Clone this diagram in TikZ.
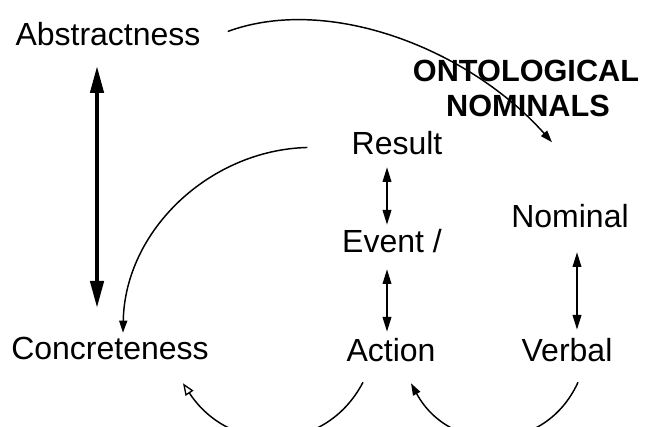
\documentclass[tikz,border=0pt]{standalone}
\usepackage{fontspec}
\setmainfont{Liberation Sans}
\usetikzlibrary{arrows.meta,calc}
\tikzset{
  lbl/.style={anchor=base, inner sep=0pt, text height=17.3pt, text depth=0pt,
              font=\fontsize{24}{28}\selectfont},
  head/.style={anchor=base, inner sep=0pt, text height=16.6pt, text depth=0pt,
               font=\fontsize{23}{27}\selectfont\bfseries},
  bigarrow/.style={line width=2.6pt, {Triangle[length=20pt,width=10pt]}-{Triangle[length=20pt,width=10pt]}},
  duo/.style={line width=1.1pt, {Triangle[length=11pt,width=6.5pt]}-{Triangle[length=11pt,width=6.5pt]}},
  link/.style={line width=1.1pt, -{Triangle[length=9pt,width=6pt]}},
  openlink/.style={line width=1.1pt, -{Triangle[open,length=9pt,width=7pt,line width=1pt]}}
}
\begin{document}
\begin{tikzpicture}[x=0.75pt,y=-0.75pt]
\useasboundingbox (0,0) rectangle (647,427);

% labels
\node[lbl]  (abs)   at (108,46)  {Abstractness};
\node[lbl]  (conc)  at (110,360) {Concreteness};
\node[lbl]  (res)   at (397,155) {Result};
\node[lbl]  (evt)   at (392,253) {Event /};
\node[lbl]  (act)   at (391,362) {Action};
\node[lbl]  (nom)   at (570,228) {Nominal};
\node[lbl]  (verb)  at (567,362) {Verbal};
\node[head] (onto)  at (526,82)  {ONTOLOGICAL};
\node[head] (nomls) at (528,117) {NOMINALS};

% abstract / concrete scale
\draw[bigarrow] ($(abs.south)+(-11,20)$) -- ($(conc.north)+(-13,-29)$);

% vertical pairs
\draw[duo] ($(res.south)+(-10,12)$) -- ($(evt.north)+(-5,-5)$);
\draw[duo] ($(evt.south)+(-5,16)$) -- ($(act.north)+(-4,-7)$);
\draw[duo] ($(nom.south)+(7,24)$) -- ($(verb.north)+(10,-9)$);

% curved links
\draw[link] ($(abs.east)+(27,-3)$) .. controls (330,-6) and (470,50) .. ($(nomls.south)+(24,25)$);
\draw[link] ($(res.west)+(-44,4)$) .. controls (210,150) and (125,230) .. ($(conc.north)+(13,-4)$);
\draw[openlink] ($(act.south)+(-28,20)$) .. controls (325,455) and (230,455) .. ($(conc.south east)+(-26,23)$);
\draw[link] ($(verb.south)+(11,20)$) .. controls (545,455) and (450,455) .. ($(act.south)+(20,21)$);
\end{tikzpicture}
\end{document}
